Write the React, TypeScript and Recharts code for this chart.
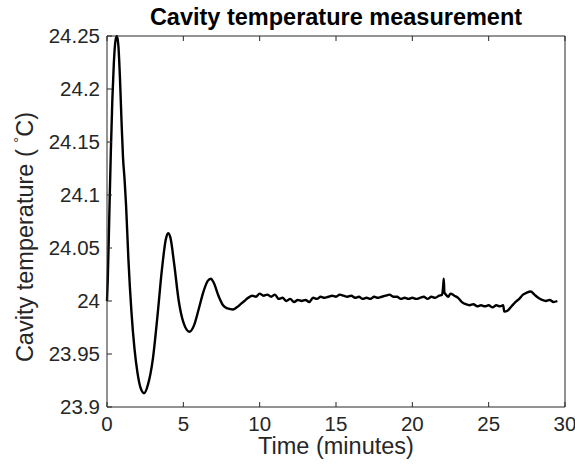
import { Line, LineChart, XAxis, YAxis } from "recharts";

// minutes
const times = [
  0, 0.05, 0.15, 0.25, 0.35, 0.45, 0.55, 0.65, 0.75, 0.85, 0.95, 1.05, 1.15, 1.25, 1.4, 1.6, 1.8, 2.0,
  2.2, 2.43, 2.7, 3.0, 3.3, 3.6, 3.85, 4.0, 4.15, 4.4, 4.7, 5.0, 5.4, 5.7, 6.0, 6.3, 6.6, 6.8, 7.0,
  7.3, 7.6, 7.9, 8.25, 8.5, 8.75, 9.0, 9.25, 9.5, 9.75, 10.0, 10.25, 10.5, 10.75, 11.0, 11.25, 11.5,
  11.75, 12.0, 12.25, 12.5, 12.75, 13.0, 13.25, 13.5, 13.75, 14.0, 14.25, 14.5, 14.75, 15.0, 15.25,
  15.5, 15.75, 16.0, 16.25, 16.5, 16.75, 17.0, 17.25, 17.5, 17.75, 18.0, 18.25, 18.5, 18.75, 19.0,
  19.25, 19.5, 19.75, 20.0, 20.25, 20.5, 20.75, 21.0, 21.25, 21.5, 21.75, 21.95, 22.02, 22.06, 22.1,
  22.2, 22.35, 22.5, 22.75, 23.0, 23.25, 23.5, 23.75, 24.0, 24.25, 24.5, 24.75, 25.0, 25.25, 25.5,
  25.75, 25.95, 26.02, 26.25, 26.5, 26.75, 27.0, 27.25, 27.5, 27.75, 28.0, 28.25, 28.5, 28.75, 29.0,
  29.25, 29.5,
];

// degrees C
const temps = [
  24.0, 24.02, 24.08, 24.14, 24.19, 24.225, 24.245, 24.25, 24.24, 24.21, 24.17, 24.135, 24.115, 24.09,
  24.04, 23.99, 23.955, 23.932, 23.918, 23.913, 23.922, 23.945, 23.985, 24.03, 24.058, 24.064, 24.06,
  24.035, 24.0, 23.98, 23.971, 23.977, 23.992, 24.008, 24.019, 24.021, 24.017, 24.005, 23.996, 23.993,
  23.992, 23.994, 23.997, 24.0, 24.003, 24.005, 24.004, 24.007, 24.005, 24.006, 24.004, 24.006, 24.002,
  24.003, 24.0, 24.002, 23.999, 24.001, 24.0, 24.001, 23.999, 24.003, 24.002, 24.004, 24.003, 24.004,
  24.005, 24.004, 24.006, 24.005, 24.004, 24.005, 24.003, 24.004, 24.002, 24.003, 24.002, 24.004,
  24.003, 24.004, 24.005, 24.006, 24.004, 24.004, 24.002, 24.003, 24.002, 24.003, 24.002, 24.003,
  24.004, 24.002, 24.004, 24.003, 24.005, 24.006, 24.014, 24.021, 24.008, 24.006, 24.004, 24.007,
  24.005, 24.003, 23.999, 23.997, 23.996, 23.997, 23.995, 23.996, 23.995, 23.996, 23.994, 23.996,
  23.995, 23.996, 23.99, 23.991, 23.995, 23.999, 24.002, 24.006, 24.008, 24.009, 24.006, 24.003,
  24.001, 24.0, 24.001, 23.999, 24.0,
];

const xTicks = [0, 5, 10, 15, 20, 25, 30];
const yTicks = [23.9, 23.95, 24, 24.05, 24.1, 24.15, 24.2, 24.25];

const data = times.map((t, i) => ({ t, temp: temps[i] }));

const AXIS = "#262626";
const FONT = "'Liberation Sans', Arial, Helvetica, sans-serif";
const fmt = (v: number) => String(Number(v.toFixed(2)));

const BottomTick = ({ x, y, payload }: any) => (
  <g>
    <line x1={x} y1={y} x2={x} y2={y - 5} stroke={AXIS} />
    <text x={x} y={y + 24} textAnchor="middle" fontSize={20.5} fill={AXIS} fontFamily={FONT}>
      {fmt(payload.value)}
    </text>
  </g>
);

const TopTick = ({ x, y }: any) => <line x1={x} y1={y} x2={x} y2={y + 5} stroke={AXIS} />;

const LeftTick = ({ x, y, payload }: any) => (
  <g>
    <line x1={x} y1={y} x2={x + 5} y2={y} stroke={AXIS} />
    <text x={x - 7} y={y + 7} textAnchor="end" fontSize={20.5} fill={AXIS} fontFamily={FONT}>
      {fmt(payload.value)}
    </text>
  </g>
);

const RightTick = ({ x, y }: any) => <line x1={x} y1={y} x2={x - 5} y2={y} stroke={AXIS} />;

const XLabel = ({ viewBox }: any) => (
  <text
    x={viewBox.x + viewBox.width / 2}
    y={viewBox.y + 47}
    textAnchor="middle"
    fontSize={23.5}
    fill={AXIS}
    fontFamily={FONT}
  >
    Time (minutes)
  </text>
);

const Title = ({ viewBox }: any) => (
  <text
    x={viewBox.x + viewBox.width / 2}
    y={viewBox.y - 10}
    textAnchor="middle"
    fontSize={23.5}
    fontWeight="bold"
    fill="#000"
    fontFamily={FONT}
  >
    Cavity temperature measurement
  </text>
);

const YLabel = () => {
  const cx = 33;
  const cy = 237;
  return (
    <text
      x={cx}
      y={cy}
      transform={`rotate(-90, ${cx}, ${cy})`}
      textAnchor="middle"
      fontSize={23.5}
      fill={AXIS}
      fontFamily={FONT}
    >
      Cavity temperature ({" "}
      <tspan fontSize={15} dy={-9}>
        °
      </tspan>
      <tspan dy={9}>C)</tspan>
    </text>
  );
};

export default function App() {
  return (
    <div style={{ position: "absolute", left: 0, top: 0, background: "#fff" }}>
      <LineChart
        width={575}
        height={465}
        data={data}
        margin={{ top: 35, right: 9, bottom: 28, left: 47 }}
      >
        <XAxis
          dataKey="t"
          type="number"
          domain={[0, 30]}
          ticks={xTicks}
          height={30}
          tickSize={0}
          tickMargin={0}
          tickLine={false}
          axisLine={{ stroke: AXIS }}
          tick={<BottomTick />}
          label={<XLabel />}
        />
        <XAxis
          xAxisId="top"
          orientation="top"
          dataKey="t"
          type="number"
          domain={[0, 30]}
          ticks={xTicks}
          height={1}
          tickSize={0}
          tickMargin={0}
          tickLine={false}
          axisLine={{ stroke: AXIS }}
          tick={<TopTick />}
          label={<Title />}
        />
        <YAxis
          type="number"
          domain={[23.9, 24.25]}
          ticks={yTicks}
          width={60}
          tickSize={0}
          tickMargin={0}
          tickLine={false}
          axisLine={{ stroke: AXIS }}
          tick={<LeftTick />}
          label={<YLabel />}
        />
        <YAxis
          yAxisId="right"
          orientation="right"
          type="number"
          domain={[23.9, 24.25]}
          ticks={yTicks}
          width={1}
          tickSize={0}
          tickMargin={0}
          tickLine={false}
          axisLine={{ stroke: AXIS }}
          tick={<RightTick />}
        />
        <Line
          type="monotone"
          dataKey="temp"
          stroke="#000"
          strokeWidth={2.4}
          dot={false}
          isAnimationActive={false}
        />
      </LineChart>
    </div>
  );
}
